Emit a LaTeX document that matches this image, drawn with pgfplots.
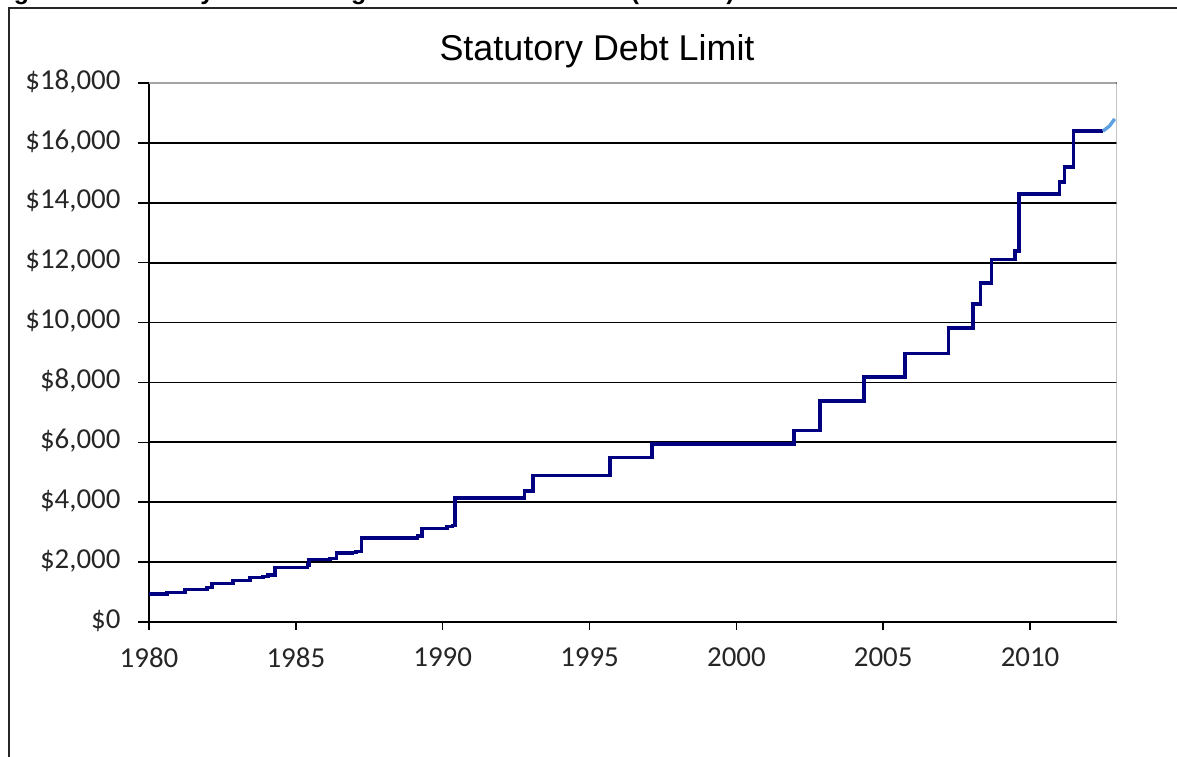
\documentclass[border=0pt]{standalone}
\usepackage{fontspec}
\setmainfont{Carlito}
\newfontfamily\arialfont{Liberation Sans}
\usepackage{pgfplots}
\pgfplotsset{compat=1.18}
\definecolor{navyline}{RGB}{0,0,128}
\definecolor{lightline}{RGB}{95,160,225}
\definecolor{bordergray}{RGB}{165,165,165}
\begin{document}
\begin{tikzpicture}[x=1bp,y=1bp]
\useasboundingbox (0,0) rectangle (588.5,378);
\fill[white] (0,0) rectangle (588.5,378);
\draw[black!85, line width=0.8bp] (4.5,-2) -- (4.5,374) -- (590,374);
\node[anchor=base east, font=\arialfont\bfseries\fontsize{12.5}{14}\selectfont, inner sep=0pt] at (367.5,378.3) {Figure 1. Statutory Debt Ceiling Increases Since 1980 (billions)};
\node[font=\arialfont\fontsize{18}{20}\selectfont, anchor=base, inner sep=0pt] at (298.5,348) {Statutory Debt Limit};
\begin{axis}[
  scale only axis, width=483.85bp, height=269.5bp,
  at={(74.5bp,67bp)}, anchor=south west,
  xmin=1980, xmax=2012.95, ymin=0, ymax=18000,
  axis x line*=bottom, axis y line*=left,
  axis line style={black, line width=0.8bp},
  xtick={1980,1985,...,2010},
  ytick={0,2000,...,18000},
  scaled y ticks=false,
  tick align=outside,
  xtick style={black, line width=0.8bp, /pgfplots/major tick length=4bp},
  ytick style={black, line width=0.8bp, /pgfplots/major tick length=5.5bp},
  ymajorgrids=true,
  major grid style={black, line width=0.9bp},
  /pgf/number format/assume math mode=true,
  tick label style={font=\fontsize{14.5}{16}\selectfont, text=black!85},
  yticklabel={\$\pgfmathprintnumber{\tick}},
  yticklabel style={/pgf/number format/fixed, /pgf/number format/1000 sep={,}, xshift=-6.5bp, yshift=0.8bp},
  xticklabel style={/pgf/number format/1000 sep={}, yshift=-5bp},
  clip=true,
]
\addplot[const plot, navyline, line width=1.7bp] coordinates {
(1980.00,935) (1980.61,985) (1981.23,1079.8) (1981.97,1143.1) (1982.14,1290.2)
(1982.86,1389) (1983.44,1490) (1983.88,1520) (1984.05,1573) (1984.29,1823.8)
(1985.40,1903.8) (1985.45,2078.7) (1986.16,2111) (1986.38,2300) (1986.93,2320)
(1987.05,2352) (1987.24,2800) (1989.15,2870) (1989.30,3122.7) (1990.15,3195)
(1990.33,3230) (1990.42,4145) (1992.78,4370) (1993.08,4900) (1995.70,5500)
(1997.12,5950) (2001.96,6400) (2002.85,7384) (2004.34,8184) (2005.74,8965)
(2007.22,9815) (2008.06,10615) (2008.32,11315) (2008.68,12104) (2009.48,12394)
(2009.62,14294) (2011.00,14694) (2011.18,15194) (2011.48,16394) (2012.48,16394)
};
\addplot[lightline, line width=1.7bp] coordinates {
(2012.48,16394) (2012.70,16560) (2012.88,16800)
};
\draw[bordergray, line width=1bp] (rel axis cs:0,1) -- (rel axis cs:1,1) -- (rel axis cs:1,0);
\end{axis}
\end{tikzpicture}
\end{document}
